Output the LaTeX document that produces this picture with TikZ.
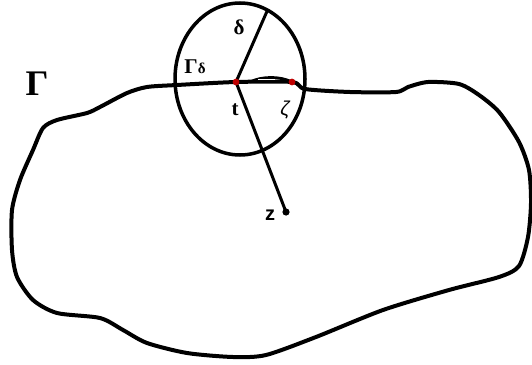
\documentclass[tikz,border=0pt]{standalone}
\usepackage{fontspec}
\setmainfont{Liberation Serif}
\newfontfamily\labelsans{Liberation Sans}
\tikzset{
  contour/.style={line width=4pt, line join=round},
  radius line/.style={line width=3pt},
  disc/.style={line width=3.5pt},
  lbl/.style={inner sep=0pt, font=\bfseries\fontsize{21}{24}\selectfont},
}
\begin{document}
\begin{tikzpicture}[x=1pt, y=-1pt]
  \useasboundingbox (0,0) rectangle (532,364);
  % points on the contour and in the interior
  \coordinate (t) at (236,82);
  \coordinate (zeta) at (292,82);
  \coordinate (z) at (286,212);
  \coordinate (dtop) at (268,9);
  % contour Gamma
  \draw[contour] plot[smooth cycle, tension=0.45] coordinates {
    (177,85) (t) (292,82) (305,89) (350,92) (396,92) (408,87) (428,82)
    (459,84) (479,95) (499,112) (519,142) (529,170) (531,203) (528,237)
    (519,266) (499,277) (449,290) (383,310) (316,337) (266,355) (233,357)
    (187,353) (147,343) (123,330) (100,318) (57,313) (33,300) (17,277)
    (12,250) (12,210) (20,180) (33,150) (43,128) (57,120) (87,113)
    (100,107) (127,93) (147,87)};
  % small arc from t to zeta
  \draw[line width=2.8pt] (250,82) .. controls (262,76) and (280,76) .. (zeta);
  \draw[white, line width=0.8pt] (258,79) -- (275,79);
  % disc of radius delta
  \draw[disc] (240,79) ellipse (65 and 76);
  \draw[radius line] (t) -- (dtop);
  \draw[radius line] (t) -- (z);
  % marked points
  \fill[red!75!black] (t) circle (3.4);
  \fill[red!75!black] (zeta) circle (3.4);
  \fill (z) circle (3.6);
  % labels
  \node[font=\bfseries\fontsize{36}{40}\selectfont, inner sep=0pt] (gamma) at (37,84) {Γ};
  \node[lbl] (gammad) at (195,67) {Γ{\fontsize{15}{17}\selectfont δ}};
  \node[lbl] (delta) at (239,27) {δ};
  \node[lbl] (tlab) at (235,110) {t};
  \node[inner sep=0pt, font=\labelsans\itshape\fontsize{20}{23}\selectfont] (zetalab) at (285,110) {ζ};
  \node[inner sep=0pt, font=\labelsans\bfseries\fontsize{20}{23}\selectfont] (zlab) at (270,215) {z};
\end{tikzpicture}
\end{document}
